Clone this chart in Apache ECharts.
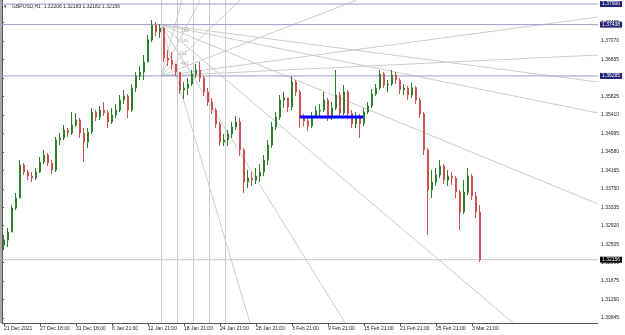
<!DOCTYPE html>
<html><head><meta charset="utf-8">
<script src="https://cdn.jsdelivr.net/npm/echarts@6/dist/echarts.min.js"></script>
<style>html,body{margin:0;padding:0;background:#fff}#c{width:625px;height:335px}</style>
</head><body><div id="c"></div>
<script>
// ---- data ----
const xTickLabels = ['21 Dec 2021','27 Dec 18:00','31 Dec 18:00','6 Jan 21:00','12 Jan 21:00','18 Jan 21:00','24 Jan 21:00','28 Jan 21:00','3 Feb 21:00','9 Feb 21:00','15 Feb 21:00','21 Feb 21:00','25 Feb 21:00','3 Mar 21:00'];
const yTickValues = [1.30845,1.31260,1.31675,1.32090,1.32505,1.32920,1.33335,1.33750,1.34165,1.34580,1.34995,1.35410,1.35825,1.36240,1.36655,1.37070,1.37485];
const opens = [1.32486,1.32598,1.32778,1.33317,1.33542,1.34283,1.34126,1.34036,1.33991,1.34126,
 1.34351,1.34508,1.34328,1.34171,1.34845,1.34890,1.35070,1.35003,1.35182,1.35295,
 1.35003,1.34800,1.35025,1.35474,1.35362,1.35519,1.35460,1.35250,1.35407,1.35519,
 1.35744,1.35834,1.35519,1.36014,1.36283,1.36373,1.36598,1.37092,1.37429,1.37272,
 1.37362,1.36688,1.36643,1.36553,1.36373,1.35969,1.36014,1.36103,1.36328,1.36418,
 1.36238,1.35924,1.35699,1.35519,1.35205,1.34800,1.34845,1.34980,1.35137,1.35250,
 1.34621,1.33901,1.33991,1.33946,1.34036,1.34126,1.34396,1.34733,1.35137,1.35362,
 1.35744,1.35789,1.35587,1.36149,1.35924,1.35340,1.35272,1.35160,1.35385,1.35497,
 1.35519,1.35744,1.35340,1.35564,1.35856,1.35452,1.35924,1.35440,1.35205,1.35362,
 1.35215,1.35474,1.35609,1.35879,1.36014,1.36328,1.36081,1.36103,1.36306,1.36193,
 1.35969,1.36014,1.35856,1.36020,1.35744,1.35429,1.34621,1.33722,1.33901,1.34059,
 1.34261,1.33946,1.34036,1.33991,1.33677,1.33227,1.33670,1.34036,1.33587,1.33227];
const closes = [1.32598,1.32778,1.33317,1.33542,1.34283,1.34126,1.34036,1.33991,1.34126,1.34351,
 1.34508,1.34328,1.34171,1.34845,1.34890,1.35070,1.35003,1.35182,1.35295,1.35003,
 1.34800,1.35025,1.35474,1.35362,1.35519,1.35460,1.35250,1.35407,1.35519,1.35744,
 1.35834,1.35519,1.36014,1.36283,1.36373,1.36598,1.37092,1.37429,1.37272,1.37362,
 1.36688,1.36643,1.36553,1.36373,1.35969,1.36014,1.36103,1.36328,1.36418,1.36238,
 1.35924,1.35699,1.35519,1.35205,1.34800,1.34845,1.34980,1.35137,1.35250,1.34621,
 1.33901,1.33991,1.33946,1.34036,1.34126,1.34396,1.34733,1.35137,1.35362,1.35744,
 1.35789,1.35587,1.36149,1.35924,1.35340,1.35272,1.35160,1.35385,1.35497,1.35519,
 1.35744,1.35340,1.35564,1.35856,1.35452,1.35924,1.35440,1.35205,1.35362,1.35215,
 1.35474,1.35609,1.35879,1.36014,1.36328,1.36081,1.36103,1.36306,1.36193,1.35969,
 1.36014,1.35856,1.36020,1.35744,1.35429,1.34621,1.33722,1.33901,1.34059,1.34261,
 1.33946,1.34036,1.33991,1.33677,1.33227,1.33670,1.34036,1.33587,1.33227,1.32156];
const highs = [1.32711,1.32868,1.33385,1.33654,1.34396,1.34328,1.34171,1.34126,1.34216,1.34463,
 1.34621,1.34553,1.34396,1.34913,1.35003,1.35182,1.35115,1.35474,1.35452,1.35340,
 1.35115,1.35115,1.35564,1.35519,1.35609,1.35699,1.35519,1.35564,1.35654,1.35856,
 1.35969,1.35879,1.36103,1.36373,1.36508,1.36755,1.37205,1.37542,1.37497,1.37452,
 1.37384,1.36868,1.36823,1.36553,1.36373,1.36149,1.36238,1.36418,1.36553,1.36598,
 1.36283,1.36014,1.35789,1.35564,1.35250,1.34980,1.35070,1.35250,1.35385,1.35340,
 1.34665,1.34171,1.34126,1.34216,1.34306,1.34508,1.34845,1.35250,1.35474,1.35856,
 1.35924,1.35789,1.36283,1.36193,1.35969,1.35429,1.35362,1.35474,1.35609,1.35654,
 1.35924,1.35789,1.35699,1.36418,1.35924,1.36081,1.35969,1.35519,1.35474,1.35429,
 1.35564,1.35699,1.35991,1.36103,1.36418,1.36373,1.36193,1.36418,1.36373,1.36238,
 1.36103,1.36059,1.36126,1.36059,1.35789,1.35474,1.34665,1.34171,1.34216,1.34396,
 1.34306,1.34171,1.34126,1.34036,1.33722,1.33946,1.34216,1.34081,1.33677,1.33385];
const lows = [1.32374,1.32441,1.32778,1.33272,1.33542,1.34059,1.33946,1.33901,1.33946,1.34104,
 1.34306,1.34261,1.34081,1.34126,1.34733,1.34845,1.34913,1.34958,1.35137,1.34890,
 1.34351,1.34665,1.34980,1.35272,1.35295,1.35385,1.35115,1.35205,1.35340,1.35474,
 1.35654,1.35340,1.35474,1.35924,1.36193,1.36193,1.36598,1.37047,1.37182,1.37137,
 1.36598,1.36508,1.36418,1.36283,1.35879,1.35766,1.35856,1.36059,1.36238,1.36149,
 1.35834,1.35609,1.35429,1.35115,1.34710,1.34710,1.34710,1.34890,1.35070,1.34486,
 1.33654,1.33767,1.33812,1.33857,1.33901,1.34036,1.34283,1.34665,1.35070,1.35295,
 1.35564,1.35474,1.35519,1.35834,1.35115,1.35160,1.35047,1.35115,1.35340,1.35385,
 1.35474,1.35272,1.35295,1.35519,1.35340,1.35407,1.35385,1.35115,1.35115,1.34890,
 1.35160,1.35429,1.35564,1.35834,1.35969,1.36014,1.35924,1.36059,1.36103,1.35879,
 1.35856,1.35744,1.35789,1.35654,1.35340,1.34508,1.32711,1.33542,1.33812,1.33991,
 1.33857,1.33812,1.33834,1.33542,1.32823,1.33182,1.33609,1.33497,1.33093,1.32104];
// horizontal drawn levels
const levelLines = [1.37900, 1.37438, 1.36285];
const bidPrice = 1.32156;
const quoteText = 'GBPUSD,H1  1.32206 1.32183 1.32182 1.32156';
// drawing objects in chart units: [bar position, price]
const fanHigh = [39.75, 1.37438];
const fanHighEnds = [[62, 1.30740],[85.75, 1.30740],[127.75, 1.30740],[149, 1.33408],[149, 1.35452],[149, 1.36149]];
const fanLow = [39.75, 1.36285];
const fanLowEnds = [[45, 1.37985],[49.5, 1.37985],[59.5, 1.37985],[88.5, 1.37985],[149, 1.37609],[149, 1.36755]];
const timeZones = [39.75, 43.75, 47.75, 51.75, 55.75];
const fanTexts = [['1x2', 45.75, 1.37295],['1x1', 45.75, 1.37070],['2x1', 45.25, 1.36778],['4x1', 45.75, 1.36553]];
const blueLevel = [[74.5, 1.35362],[90.25, 1.35362]];

const totalSlots = 149, labelStep = 9;
const yMin = 1.30734, yMax = 1.37991;

const cats = [];
for (let i = 0; i < totalSlots; i++) cats.push('b' + i);
const candles = opens.map((o, i) => [o, closes[i], lows[i], highs[i]]);

const lineData = [];
fanHighEnds.forEach(e => lineData.push({coords: [fanHigh, e]}));
fanLowEnds.forEach(e => lineData.push({coords: [fanLow, e]}));
timeZones.forEach(x => lineData.push({coords: [[x, yMin], [x, yMax]]}));

const font = 'Liberation Sans';
function levelSeries(v, color, bg) {
  return {
    type: 'line', xAxisIndex: 1, yAxisIndex: 0, data: [[0, v], [totalSlots, v]], showSymbol: false,
    lineStyle: {color: color, width: 1}, z: 2, silent: true, clip: false,
    endLabel: {show: true, formatter: () => v.toFixed(5), distance: 2, backgroundColor: bg, color: '#fff',
      fontSize: 5, fontFamily: font, padding: [1, 2, 0, 2]}
  };
}
const chart = echarts.init(document.getElementById('c'), null, {renderer: 'canvas'});
chart.setOption({
  animation: false,
  backgroundColor: '#ffffff',
  grid: {left: 2, right: 27, top: 0, bottom: 12},
  xAxis: [{
    type: 'category', data: cats, boundaryGap: true,
    axisLine: {show: true, lineStyle: {color: '#555', width: 1}},
    axisTick: {show: true, length: 3, alignWithLabel: true, lineStyle: {color: '#555'},
      interval: (i) => i % labelStep === 0 && i / labelStep < xTickLabels.length},
    axisLabel: {interval: 0, align: 'left', margin: 3, fontSize: 5, fontFamily: font, color: '#222',
      formatter: (v, i) => (i % labelStep === 0 && i / labelStep < xTickLabels.length) ? xTickLabels[i / labelStep] : ''},
    splitLine: {show: false}
  }, {
    type: 'value', min: 0, max: totalSlots, show: false
  }],
  yAxis: {
    type: 'value', position: 'right', min: yMin, max: yMax,
    axisLine: {show: true, lineStyle: {color: '#555', width: 1}},
    axisTick: {show: true, length: 2, customValues: yTickValues, lineStyle: {color: '#555'}},
    axisLabel: {customValues: yTickValues, margin: 3, fontSize: 5, fontFamily: font, color: '#222',
      formatter: v => v.toFixed(5)},
    splitLine: {show: false}
  },
  graphic: [
    {type: 'rect', left: 0, top: 0, shape: {width: 2, height: 323}, style: {fill: '#a8a8a8'}, z: 1},
    {type: 'text', left: 4, top: 4, style: {text: '▾', fontSize: 5, fill: '#333'}},
    {type: 'text', left: 12, top: 4, style: {text: quoteText, fontSize: 5, fontFamily: font, fill: '#222'}}
  ],
  series: [
    {
      type: 'lines', coordinateSystem: 'cartesian2d', xAxisIndex: 1, yAxisIndex: 0,
      data: lineData, symbol: ['none', 'none'],
      lineStyle: {color: '#cccccc', width: 1, opacity: 1}, z: 1, silent: true
    },
    levelSeries(levelLines[0], '#9c9cd0', '#23237a'),
    levelSeries(levelLines[1], '#9c9cd0', '#23237a'),
    levelSeries(levelLines[2], '#9c9cd0', '#23237a'),
    levelSeries(bidPrice, '#c8c8c8', '#000000'),
    {
      type: 'candlestick', xAxisIndex: 0, yAxisIndex: 0, data: candles,
      barWidth: 2,
      itemStyle: {color: '#2f7d2f', color0: '#d05050', borderColor: '#2f7d2f', borderColor0: '#d05050', borderWidth: 1},
      z: 3
    },
    {
      type: 'line', xAxisIndex: 1, yAxisIndex: 0, data: blueLevel, showSymbol: false,
      lineStyle: {color: '#0000ff', width: 3}, z: 4, silent: true
    },
    {
      type: 'scatter', xAxisIndex: 1, yAxisIndex: 0, symbolSize: 0, silent: true,
      data: fanTexts.map(t => ({value: [t[1], t[2]], label: {show: true, formatter: t[0], position: 'inside',
        fontSize: 5, color: '#999', fontFamily: font}}))
    }
  ]
});
</script>
</body></html>
